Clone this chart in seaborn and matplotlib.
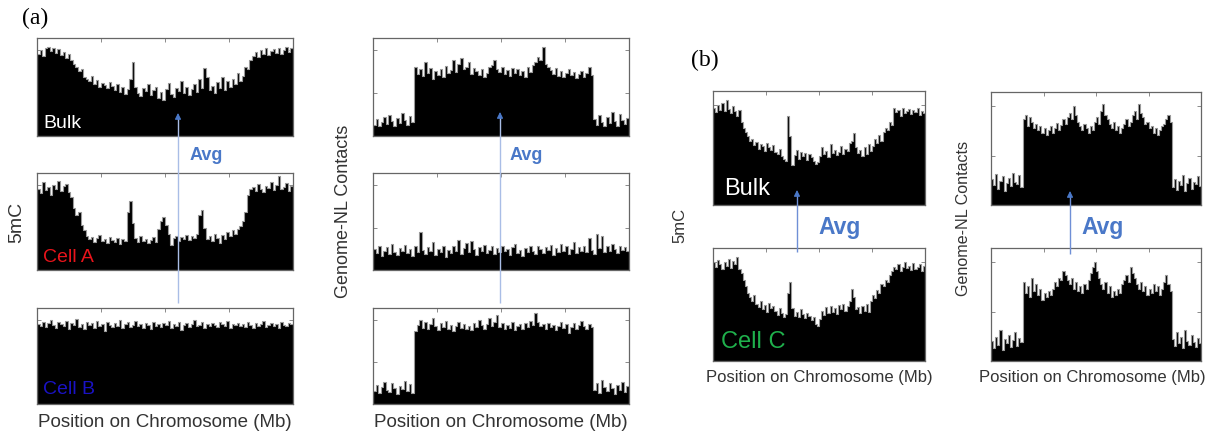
import numpy as np
import matplotlib
matplotlib.use("Agg")
import matplotlib.pyplot as plt
import seaborn as sns

# ---------------- data (fraction of panel height, per chromosome bin) ----------------
bulk_5mc_a = [0.86,0.90,0.84,0.92,0.94,0.89,0.93,0.87,0.91,0.85,0.88,0.82,0.86,
              0.80,0.76,0.72,0.68,0.70,0.62,
              0.60,0.58,0.63,0.55,0.59,0.52,0.56,0.54,0.50,0.57,0.53,0.48,0.55,0.46,0.51,0.44,0.49,0.60,0.78,
              0.52,0.45,0.42,0.50,0.47,0.55,0.43,0.48,0.52,0.40,0.46,0.38,0.49,0.56,0.44,0.41,0.50,0.47,0.58,0.45,
              0.52,0.43,0.49,0.55,0.46,0.60,0.50,0.71,0.62,0.48,0.53,0.45,0.57,0.50,0.62,0.48,0.58,0.52,0.60,0.55,
              0.66,0.58,
              0.63,0.72,0.70,0.80,0.84,0.88,0.83,0.90,0.86,0.92,0.85,0.89,0.91,0.87,0.93,0.86,0.90,0.94,0.88,0.92]

cell_a_5mc = [0.86,0.82,0.93,0.85,0.88,0.80,0.90,0.86,0.95,0.84,0.89,0.91,0.83,0.78,
              0.66,0.58,0.62,0.48,0.42,0.36,
              0.33,0.35,0.30,0.34,0.37,0.31,0.33,0.29,0.35,0.32,0.30,0.34,0.28,0.33,0.31,
              0.62,0.73,0.50,
              0.34,0.30,0.36,0.31,0.33,0.29,0.32,0.35,0.30,0.44,0.52,0.56,
              0.48,0.38,0.27,
              0.34,0.36,0.31,0.35,0.33,0.37,0.32,0.36,0.34,0.38,0.58,0.64,
              0.45,0.33,0.36,0.31,0.38,0.34,0.29,0.37,0.33,0.40,0.36,0.42,0.38,0.44,0.47,0.52,
              0.62,0.80,0.86,
              0.88,0.84,0.91,0.86,0.83,0.89,0.87,0.93,0.85,0.90,1.00,0.86,0.88,0.92,0.84,0.89]

cell_b_5mc = [0.86,0.84,0.88,0.83,0.87,0.90,0.85,0.82,0.88,0.86,
              0.84,0.89,0.81,0.87,0.85,0.91,0.83,0.86,0.80,0.88,
              0.85,0.87,0.82,0.89,0.84,0.86,0.78,0.88,0.85,0.83,
              0.87,0.84,0.90,0.82,0.86,0.88,0.83,0.85,0.89,0.84,
              0.86,0.82,0.87,0.85,0.80,0.88,0.84,0.86,0.83,0.87,
              0.85,0.89,0.82,0.86,0.84,0.88,0.79,0.85,0.87,0.83,
              0.86,0.90,0.84,0.85,0.88,0.82,0.86,0.84,0.87,0.85,
              0.83,0.88,0.86,0.84,0.89,0.82,0.86,0.85,0.87,0.84,
              0.86,0.83,0.88,0.85,0.82,0.87,0.84,0.86,0.89,0.83,
              0.85,0.87,0.84,0.86,0.82,0.88,0.85,0.84,0.87,0.86]

bulk_nl_a = [0.12,0.18,0.10,0.15,0.20,0.13,0.22,0.16,0.11,0.19,0.14,0.24,0.17,0.12,0.21,0.15,
             0.72,0.65,0.70,0.63,0.78,0.66,0.71,0.60,0.68,0.64,
             0.70,0.62,0.74,0.66,0.69,0.80,0.67,0.76,0.82,0.70,
             0.73,0.78,0.65,0.71,0.68,0.64,0.70,0.62,0.66,0.72,
             0.75,0.80,0.70,0.67,0.73,0.65,0.69,0.63,0.71,0.66,
             0.70,0.64,0.68,0.62,0.72,0.67,0.75,0.78,0.83,0.80,
             0.94,0.76,0.72,0.69,0.65,0.71,0.63,0.68,0.62,0.66,
             0.70,0.64,0.67,0.61,0.65,0.68,0.62,0.66,0.72,0.64,
             0.18,0.12,0.22,0.15,0.10,0.20,0.14,0.25,0.16,0.11,0.23,0.17,0.13,0.19]

cell_nl_flat = [0.22,0.18,0.26,0.15,0.20,0.24,0.17,0.28,0.19,0.16,
                0.23,0.20,0.27,0.18,0.22,0.15,0.25,0.19,0.40,0.21,
                0.17,0.24,0.20,0.30,0.16,0.22,0.19,0.26,0.14,0.21,
                0.18,0.25,0.20,0.32,0.17,0.23,0.29,0.19,0.31,0.22,
                0.16,0.24,0.20,0.27,0.18,0.21,0.25,0.17,0.23,0.19,
                0.26,0.20,0.22,0.16,0.24,0.28,0.18,0.21,0.15,0.23,
                0.19,0.26,0.20,0.17,0.25,0.22,0.18,0.24,0.21,0.27,
                0.16,0.23,0.19,0.28,0.20,0.25,0.17,0.22,0.30,0.18,
                0.24,0.20,0.26,0.19,0.34,0.21,0.17,0.38,0.23,0.36,
                0.19,0.25,0.20,0.28,0.22,0.18,0.26,0.21,0.24,0.20]

cell_nl_domain = [0.14,0.20,0.12,0.18,0.24,0.15,0.13,0.22,0.17,0.11,0.19,0.16,0.25,0.14,0.21,0.12,
                  0.78,0.85,0.90,0.82,0.88,0.80,0.86,0.92,0.84,0.79,
                  0.87,0.83,0.89,0.81,0.85,0.78,0.84,0.88,0.82,0.86,
                  0.80,0.84,0.79,0.87,0.83,0.90,0.85,0.81,0.86,0.92,
                  0.84,0.88,0.96,0.83,0.87,0.80,0.85,0.82,0.88,0.79,
                  0.84,0.86,0.81,0.87,0.83,0.89,0.85,0.98,0.88,0.84,
                  0.86,0.81,0.87,0.83,0.85,0.79,0.84,0.88,0.82,0.86,
                  0.76,0.83,0.87,0.81,0.85,0.89,0.84,0.80,0.86,0.83,
                  0.15,0.22,0.12,0.26,0.18,0.14,0.23,0.17,0.11,0.20,0.15,0.24,0.13,0.19]

bulk_5mc_b = [0.88,0.84,0.90,0.86,0.92,0.85,0.95,0.87,0.83,0.89,0.85,0.80,0.86,
              0.75,0.70,0.66,0.62,0.58,0.60,
              0.54,0.57,0.51,0.55,0.53,0.49,0.56,0.52,0.50,0.54,0.48,0.46,0.51,0.44,0.42,
              0.40,0.80,0.62,0.36,
              0.45,0.50,0.42,0.48,0.44,0.47,0.41,0.46,0.43,
              0.40,0.37,0.39,
              0.44,0.52,0.46,0.49,0.43,0.55,0.47,0.50,0.45,0.48,0.53,0.46,0.51,0.49,0.56,
              0.58,0.65,0.52,
              0.47,0.50,0.44,0.52,0.46,0.55,0.49,0.53,0.60,0.56,0.63,0.58,
              0.66,0.70,0.68,0.75,0.72,0.88,
              0.84,0.86,0.80,0.88,0.83,0.85,0.87,0.82,0.86,0.84,0.88,0.81,0.85,0.83]

cell_c_5mc = [0.90,0.86,0.92,0.88,0.84,0.90,0.87,0.93,0.85,0.91,0.88,0.95,0.84,
              0.80,0.74,0.68,0.62,0.58,0.55,0.60,
              0.52,0.49,0.55,0.47,0.51,0.45,0.53,0.48,0.50,0.46,0.42,0.48,0.44,0.40,0.43,
              0.62,0.72,0.48,
              0.41,0.45,0.40,0.47,0.43,0.39,0.44,0.41,0.37,0.40,
              0.34,0.32,0.38,
              0.46,0.42,0.49,0.44,0.50,0.45,0.48,0.43,0.51,0.47,0.52,0.46,0.50,0.55,
              0.66,0.58,0.47,
              0.49,0.44,0.50,0.46,0.52,0.45,0.55,0.60,0.57,0.65,0.62,0.70,
              0.68,0.74,0.72,0.78,0.82,0.86,
              0.84,0.88,0.82,0.86,0.90,0.85,0.87,0.83,0.89,0.84,0.86,0.88,0.82,0.87]

bulk_nl_b = [0.24,0.18,0.28,0.15,0.22,0.26,0.13,0.20,0.25,0.17,0.29,0.21,0.19,0.27,0.16,
             0.78,0.82,0.72,0.80,0.76,0.70,0.74,0.68,0.72,0.66,
             0.70,0.64,0.68,0.72,0.66,0.70,0.75,0.68,0.73,0.78,
             0.74,0.80,0.84,0.78,0.90,0.82,0.76,0.72,0.68,0.74,
             0.70,0.66,0.72,0.68,0.76,0.80,0.74,0.86,0.92,0.82,
             0.78,0.74,0.70,0.76,0.68,0.72,0.66,0.70,0.74,0.78,
             0.72,0.76,0.82,0.86,0.78,0.92,0.84,0.80,0.74,0.76,
             0.70,0.72,0.66,0.70,0.64,0.68,0.72,0.74,0.78,0.82,0.76,
             0.16,0.24,0.14,0.22,0.18,0.27,0.13,0.20,0.25,0.15,0.21,0.19,0.26,0.17]

cell_nl_b = [0.18,0.12,0.22,0.15,0.28,0.10,0.20,0.16,0.24,0.13,0.19,0.26,0.14,0.21,0.17,
             0.72,0.62,0.68,0.58,0.76,0.64,0.70,0.60,0.66,0.56,
             0.62,0.58,0.64,0.60,0.66,0.72,0.68,0.76,0.74,0.82,
             0.78,0.74,0.70,0.76,0.66,0.72,0.64,0.68,0.62,0.70,
             0.66,0.74,0.80,0.86,0.90,0.82,0.76,0.70,0.66,0.72,
             0.62,0.68,0.58,0.64,0.60,0.66,0.62,0.70,0.74,0.78,
             0.72,0.86,0.80,0.76,0.70,0.66,0.72,0.64,0.68,0.60,
             0.66,0.62,0.70,0.64,0.68,0.60,0.66,0.72,0.78,0.70,0.64,
             0.20,0.14,0.26,0.16,0.22,0.12,0.28,0.18,0.15,0.24,0.17,0.13,0.21,0.16]

xlabel_text = "Position on Chromosome (Mb)"

# ---------------- style ----------------
sns.set_theme(style="white")
plt.rcParams["font.family"] = ["Liberation Sans", "DejaVu Sans"]

W, H = 1221, 435
fig = plt.figure(figsize=(W / 100, H / 100), dpi=100)


def panel(x0, y0, x1, y1, vals):
    ax = fig.add_axes([x0 / W, (H - y1) / H, (x1 - x0) / W, (y1 - y0) / H])
    n = len(vals)
    sns.histplot(x=np.arange(n) + 0.5, weights=vals, bins=n, binrange=(0, n),
                 element="step", fill=True, color="black", edgecolor="#9a9a9a",
                 linewidth=0.8, alpha=1, ax=ax)
    ax.set_xlim(0, n)
    ax.set_ylim(0, 1.03)
    ax.set_xticks([n * 0.25, n * 0.5, n * 0.75])
    ax.set_yticks([0.45, 0.9])
    ax.tick_params(direction="in", length=3, width=0.6, color="#777777",
                   top=True, right=True, bottom=True, left=True,
                   labelbottom=False, labelleft=False)
    ax.set_xlabel("")
    ax.set_ylabel("")
    for s in ax.spines.values():
        s.set_color("#666666")
        s.set_linewidth(0.9)
    return ax


# (a) left column : 5mC
panel(37, 39, 293, 137, bulk_5mc_a)
panel(37, 174, 293, 271, cell_a_5mc)
panel(37, 309, 293, 405, cell_b_5mc)
# (a) right column : Genome-NL contacts
panel(373, 39, 629, 137, bulk_nl_a)
panel(373, 174, 629, 271, cell_nl_flat)
panel(373, 309, 629, 405, cell_nl_domain)
# (b)
panel(713, 92, 925, 206, bulk_5mc_b)
panel(713, 249, 925, 362, cell_c_5mc)
panel(991, 93, 1201, 206, bulk_nl_b)
panel(991, 249, 1201, 362, cell_nl_b)

# ---------------- overlay (text, arrows) ----------------
ov = fig.add_axes([0, 0, 1, 1], zorder=10)
ov.set_xlim(0, W)
ov.set_ylim(H, 0)
ov.axis("off")
ov.patch.set_alpha(0)

serif = ["Liberation Serif", "DejaVu Serif"]
ov.text(22, 18, "(a)", fontsize=17, family=serif, va="center", ha="left", color="black")
ov.text(691, 60, "(b)", fontsize=17, family=serif, va="center", ha="left", color="black")

lab = "#333333"
ov.text(165, 423, xlabel_text, fontsize=13.5, ha="center", va="center", color=lab)
ov.text(501, 423, xlabel_text, fontsize=13.5, ha="center", va="center", color=lab)
ov.text(819, 378, xlabel_text, fontsize=12, ha="center", va="center", color=lab)
ov.text(1092, 378, xlabel_text, fontsize=12, ha="center", va="center", color=lab)

ov.text(17, 222, "5mC", fontsize=14, rotation=90, ha="center", va="center", color=lab)
ov.text(344, 211, "Genome-NL Contacts", fontsize=13, rotation=90, ha="center", va="center", color=lab)
ov.text(680, 225, "5mC", fontsize=12, rotation=90, ha="center", va="center", color=lab)
ov.text(964, 218, "Genome-NL Contacts", fontsize=11.6, rotation=90, ha="center", va="center", color=lab)

ov.text(43, 124, "Bulk", fontsize=14, color="white", ha="left", va="center")
ov.text(43, 258, "Cell A", fontsize=14, color="#e8141b", ha="left", va="center")
ov.text(43, 390, "Cell B", fontsize=14, color="#1a12c4", ha="left", va="center")
ov.text(724, 189, "Bulk", fontsize=17, color="white", ha="left", va="center")
ov.text(721, 342, "Cell C", fontsize=17, color="#1fb04c", ha="left", va="center")

avg_c = "#4a78c8"
ov.text(190, 156, "Avg", fontsize=13, fontweight="bold", color=avg_c, ha="left", va="center")
ov.text(510, 156, "Avg", fontsize=13, fontweight="bold", color=avg_c, ha="left", va="center")
ov.text(818, 228, "Avg", fontsize=16.5, fontweight="bold", color=avg_c, ha="left", va="center")
ov.text(1081, 228, "Avg", fontsize=16.5, fontweight="bold", color=avg_c, ha="left", va="center")


def arrow(x, ybot, ytip, line_color, lw):
    ov.plot([x, x], [ybot, ytip + 4], color=line_color, lw=lw, solid_capstyle="butt")
    ov.annotate("", xy=(x, ytip), xytext=(x, ytip + 6),
                arrowprops=dict(arrowstyle="-|>", color=avg_c, lw=0.8,
                                mutation_scale=9, shrinkA=0, shrinkB=0))


arrow(178, 304, 114, "#a9bde6", 1.0)
arrow(500, 304, 113, "#a9bde6", 1.0)
arrow(797, 253, 191, "#6f8fd6", 1.0)
arrow(1070, 255, 192, "#6f8fd6", 1.0)

fig.savefig("out.png", dpi=100)
